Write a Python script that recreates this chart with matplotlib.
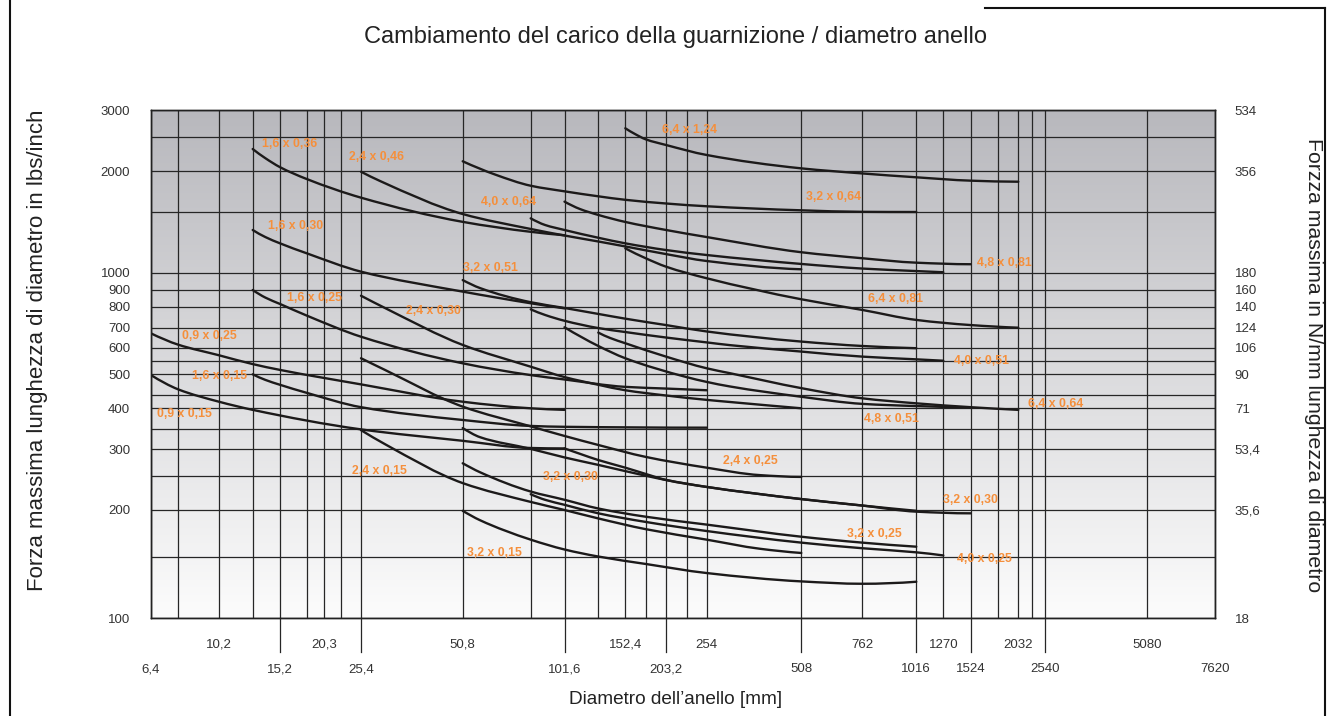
import matplotlib
matplotlib.use("Agg")
import matplotlib.pyplot as plt
import matplotlib.transforms as mtransforms
from matplotlib.lines import Line2D
from matplotlib.path import Path
from matplotlib.patches import PathPatch
from matplotlib.ticker import NullLocator
import numpy as np

plt.rcParams["font.family"] = ["Liberation Sans", "DejaVu Sans"]

# printed gridlines of the sheet: ring diameter [mm] and load [lbs/inch]
x_grid = [6.4, 7.6, 10.2, 12.7, 15.2, 17.8, 20.3, 22.9, 25.4, 50.8, 76.2, 101.6,
          127, 152.4, 177.8, 203.2, 228.6, 254, 508, 762, 1016, 1270, 1524,
          1778, 2032, 2286, 2540, 5080, 7620]
y_grid = [100, 150, 200, 250, 300, 350, 400, 450, 500, 550, 600, 700, 800,
          900, 1000, 1500, 2000, 2500, 3000]

# the printed axes are only roughly logarithmic: gridline positions (px)
x_grid_px = [151, 178.3, 219, 252.7, 280, 306.7, 323.7, 340.7, 361, 462.7, 530.7,
             564.5, 598.3, 625.3, 645.7, 666, 686.5, 706.7, 801.3, 862.3, 916.3,
             943.3, 970.7, 997.7, 1018.3, 1031.7, 1045.3, 1146.7, 1214.7]
y_grid_px = [618.3, 557.3, 510, 476.3, 449.3, 429, 408.3, 395, 374.3, 361, 347.7,
             327.7, 307, 290, 273, 212, 171.3, 137.3, 110.3]

row1 = [10.2, 20.3, 50.8, 152.4, 254, 762, 1270, 2032, 5080]
row2 = [6.4, 15.2, 25.4, 101.6, 203.2, 508, 1016, 1524, 2540, 7620]
y_ticks = [100, 200, 300, 400, 500, 600, 700, 800, 900, 1000, 2000, 3000]
y_right = ["18", "35,6", "53,4", "71", "90", "106", "124", "140", "160", "180",
           "356", "534"]

# curves: cord section x width
x_09x025 = [6.4, 7.6, 10.2, 12.7, 15.2, 25.4, 50.8, 76.2, 101.6]
y_09x025 = [670, 614, 571, 538, 516, 475, 424, 400, 396]
x_09x015 = [6.4, 7.6, 10.2, 12.7, 25.4, 50.8, 76.2, 101.6]
y_09x015 = [498, 463, 424, 396, 349, 320, 303, 302]
x_16x036 = [12.7, 13.8, 15.2, 17.8, 25.4, 50.8, 76.2, 101.6]
y_16x036 = [2315, 2180, 2055, 1894, 1660, 1405, 1315, 1285]
x_16x030 = [12.7, 13.8, 15.2, 17.8, 25.4, 50.8, 76.2, 101.6]
y_16x030 = [1331, 1270, 1218, 1140, 1009, 890, 821, 793]
x_16x025 = [12.7, 13.8, 15.2, 17.8, 25.4, 50.8, 76.2, 101.6, 152.4, 203.2, 254]
y_16x025 = [900, 854, 817, 757, 653, 541, 498, 487, 469, 465, 461]
x_16x015 = [12.7, 13.8, 15.2, 17.8, 25.4, 50.8, 76.2, 101.6, 254]
y_16x015 = [500, 486, 474, 455, 404, 371, 357, 355, 353]
x_24x046 = [25.4, 28.9, 50.8, 76.2, 101.6, 127, 152.4, 203.2, 254, 508]
y_24x046 = [1994, 1868, 1480, 1340, 1283, 1233, 1193, 1134, 1083, 1025]
x_24x030 = [25.4, 29.9, 50.8, 76.2, 101.6, 127, 152.4, 203.2, 254, 301, 508]
y_24x030 = [865, 795, 613, 528, 493, 474, 461, 448, 431, 423, 400]
x_24x025 = [25.4, 29.9, 50.8, 76.2, 101.6, 127, 177.8, 254, 375, 508]
y_24x025 = [560, 516, 406, 356, 332, 310, 285, 265, 252, 249]
x_24x015 = [25.4, 29.9, 50.8, 76.2, 101.6, 127, 177.8, 254, 375, 508]
y_24x015 = [347, 312, 239, 211, 200, 190, 178, 167, 158, 154]
x_32x064 = [50.8, 61.6, 76.2, 101.6, 127, 152.4, 203.2, 254, 508, 762, 1016]
y_32x064 = [2136, 1955, 1806, 1736, 1676, 1635, 1593, 1562, 1518, 1502, 1500]
x_32x051 = [50.8, 56.3, 76.2, 101.6, 127, 152.4, 203.2, 254, 508, 762, 1016]
y_32x051 = [957, 911, 827, 795, 765, 742, 712, 680, 629, 608, 598]
x_32x030a = [50.8, 56.3, 76.2, 101.6, 127, 177.8, 203.2, 254, 508, 762, 1016]
y_32x030a = [352, 329, 301, 284, 270, 251, 244, 233, 215, 206, 199]
x_32x030b = [101.6, 112.5, 127, 152.4, 177.8, 203.2, 254, 508, 762, 1016, 1524]
y_32x030b = [302, 291, 279, 265, 254, 244, 233, 215, 206, 198, 196]
x_32x025 = [50.8, 56.3, 76.2, 101.6, 127, 177.8, 254, 508, 762, 1016]
y_32x025 = [273, 257, 226, 214, 202, 192, 183, 170, 164, 160]
x_32x015 = [50.8, 56.3, 76.2, 101.6, 127, 177.8, 254, 508, 762, 1016]
y_32x015 = [199, 188, 167, 157.3, 150.7, 143.5, 135.1, 127.8, 125.8, 127.5]
x_40x064 = [76.2, 86.1, 101.6, 127, 152.4, 203.2, 254, 508, 762, 1016, 1270]
y_40x064 = [1438, 1376, 1331, 1264, 1218, 1165, 1127, 1062, 1030, 1013, 1005]
x_40x051 = [76.2, 86.1, 101.6, 127, 152.4, 203.2, 254, 301, 508, 762, 1016, 1270]
y_40x051 = [788, 760, 732, 698, 677, 649, 625, 612, 585, 566, 556, 551]
x_40x025 = [76.2, 86.1, 101.6, 127, 177.8, 254, 508, 762, 1016, 1270]
y_40x025 = [222, 214, 207, 196, 186, 176, 164, 158.5, 154.6, 151.7]
x_48x081 = [101.6, 112.5, 127, 152.4, 203.2, 254, 508, 762, 1016, 1524]
y_48x081 = [1614, 1532, 1471, 1404, 1331, 1270, 1148, 1103, 1071, 1060]
x_48x051 = [101.6, 127, 152.4, 228.6, 254, 301, 508, 762, 1016, 1524]
y_48x051 = [702, 608, 560, 493, 481, 470, 443, 416, 408, 403]
x_64x124 = [152.4, 164, 177.8, 203.2, 254, 508, 762, 1016, 1524, 2032]
y_64x124 = [2657, 2556, 2467, 2377, 2226, 2039, 1970, 1917, 1872, 1858]
x_64x081 = [152.4, 177.8, 203.2, 254, 508, 762, 1016, 1524, 2032]
y_64x081 = [1178, 1103, 1043, 968, 844, 785, 736, 712, 700]
x_64x064 = [127, 137.4, 152.4, 203.2, 254, 301, 508, 762, 1016, 1524, 2032]
y_64x064 = [674, 647, 621, 566, 522, 504, 466, 437, 418, 404, 396]

curves = [(x_09x025, y_09x025), (x_09x015, y_09x015), (x_16x036, y_16x036),
          (x_16x030, y_16x030), (x_16x025, y_16x025), (x_16x015, y_16x015),
          (x_24x046, y_24x046), (x_24x030, y_24x030), (x_24x025, y_24x025),
          (x_24x015, y_24x015), (x_32x064, y_32x064), (x_32x051, y_32x051),
          (x_32x030a, y_32x030a), (x_32x030b, y_32x030b), (x_32x025, y_32x025),
          (x_32x015, y_32x015), (x_40x064, y_40x064), (x_40x051, y_40x051),
          (x_40x025, y_40x025), (x_48x081, y_48x081), (x_48x051, y_48x051),
          (x_64x124, y_64x124), (x_64x081, y_64x081), (x_64x064, y_64x064)]

lab_txt = ["1,6 x 0,36", "2,4 x 0,46", "4,0 x 0,64", "1,6 x 0,30", "3,2 x 0,51",
           "1,6 x 0,25", "2,4 x 0,30", "0,9 x 0,25", "1,6 x 0,15", "0,9 x 0,15",
           "2,4 x 0,15", "3,2 x 0,15", "3,2 x 0,30", "6,4 x 1,24", "3,2 x 0,64",
           "4,8 x 0,81", "6,4 x 0,81", "4,0 x 0,51", "4,8 x 0,51", "6,4 x 0,64",
           "2,4 x 0,25", "3,2 x 0,30", "3,2 x 0,25", "4,0 x 0,25"]
lab_x = [13.5, 23.9, 56.6, 14.0, 51, 15.8, 34.4, 7.82, 8.37, 6.66, 24.2, 52,
         84.8, 197.5, 524, 1577, 787, 1366, 769, 2213, 285.5, 1270, 687, 1388]
lab_y = [2388, 2201, 1610, 1367, 1031, 850, 780, 658, 496, 385, 259, 154,
         249, 2626, 1664, 1067, 846, 551, 373, 414, 278, 213, 172.5, 148]

# piecewise-log scales that follow the printed gridlines
xl = np.log10(x_grid)
xp = np.array(x_grid_px)
xl = np.r_[xl[0] - 1, xl, xl[-1] + 1]
xp = np.r_[xp[0] - 347, xp, xp[-1] + 347]
yl = np.log10(y_grid)
yp = 618.3 - np.array(y_grid_px)
yl = np.r_[yl[0] - 1, yl, yl[-1] + 1]
yp = np.r_[yp[0] - 345, yp, yp[-1] + 345]


def fwd_x(v):
    v = np.clip(np.asarray(v, float), 1e-6, None)
    return np.interp(np.log10(v), xl, xp)


def inv_x(p):
    return 10 ** np.interp(np.asarray(p, float), xp, xl)


def fwd_y(v):
    v = np.clip(np.asarray(v, float), 1e-6, None)
    return np.interp(np.log10(v), yl, yp)


def inv_y(p):
    return 10 ** np.interp(np.asarray(p, float), yp, yl)


def end_slope(h0, h1, d0, d1):
    m = ((2 * h0 + h1) * d0 - h0 * d1) / (h0 + h1)
    if np.sign(m) != np.sign(d0):
        return 0.0
    if np.sign(d0) != np.sign(d1) and abs(m) > 3 * abs(d0):
        return 3 * d0
    return m


def curve_path(xs, ys):
    # shape-preserving cubic through the read points, built in scale space
    px, py = fwd_x(xs), fwd_y(ys)
    h = np.diff(px)
    d = np.diff(py) / h
    n = len(px)
    m = np.zeros(n)
    for k in range(1, n - 1):
        if d[k - 1] * d[k] > 0:
            w1 = 2 * h[k] + h[k - 1]
            w2 = h[k] + 2 * h[k - 1]
            m[k] = (w1 + w2) / (w1 / d[k - 1] + w2 / d[k])
    m[0] = end_slope(h[0], h[1], d[0], d[1])
    m[-1] = end_slope(h[-1], h[-2], d[-1], d[-2])
    verts = [(px[0], py[0])]
    codes = [Path.MOVETO]
    for k in range(n - 1):
        verts += [(px[k] + h[k] / 3, py[k] + m[k] * h[k] / 3),
                  (px[k + 1] - h[k] / 3, py[k + 1] - m[k + 1] * h[k] / 3),
                  (px[k + 1], py[k + 1])]
        codes += [Path.CURVE4] * 3
    v = np.array(verts)
    return Path(np.column_stack([inv_x(v[:, 0]), inv_y(v[:, 1])]), codes)


W, H = 1331, 716
fig = plt.figure(figsize=(W / 100, H / 100), dpi=100)
rect = [151 / W, 1 - 618.3 / H, (1214.7 - 151) / W, (618.3 - 110.3) / H]

bg = fig.add_axes(rect, zorder=0)
g = np.linspace(0, 1, 256)[:, None, None]
top = np.array([184, 184, 189]) / 255
bot = np.array([252, 252, 252]) / 255
bg.imshow(top * (1 - g) + bot * g, aspect="auto", extent=[0, 1, 0, 1],
          interpolation="bilinear")
bg.axis("off")

ax = fig.add_axes(rect, zorder=1)
ax.patch.set_visible(False)
ax.set_xscale("function", functions=(fwd_x, inv_x))
ax.set_yscale("function", functions=(fwd_y, inv_y))
ax.set_xlim(6.4, 7620)
ax.set_ylim(100, 3000)

gc = "#262626"
ax.vlines(x_grid, 100, 3000, colors=gc, lw=0.9, zorder=1)
ax.hlines(y_grid, 6.4, 7620, colors=gc, lw=0.9, zorder=1)

for xs, ys in curves:
    ax.add_patch(PathPatch(curve_path(xs, ys), fill=False, edgecolor="#1c1a1a",
                           lw=1.7, capstyle="round", joinstyle="round",
                           zorder=3))

for s, lx, ly in zip(lab_txt, lab_x, lab_y):
    ax.text(lx, ly, s, color="#f58f3b", fontsize=8.8, fontweight="bold",
            ha="left", va="center", zorder=4)

# x ticks: two rows of labels, the lower row with extension lines
lab = lambda v: f"{v:g}".replace(".", ",")
ax.set_xticks(row2, labels=[lab(v) for v in row2])
ax.set_xticks(row1, labels=[lab(v) for v in row1], minor=True)
ax.tick_params(axis="x", which="major", length=0, pad=32.2, labelsize=9.5,
               labelcolor="#333333")
ax.tick_params(axis="x", which="minor", length=0, pad=14.9, labelsize=9.5,
               labelcolor="#333333")
trans = mtransforms.blended_transform_factory(ax.transData, ax.transAxes)
for v in row2[1:-1]:
    ax.plot([v, v], [0, -34 / 508], transform=trans, color=gc, lw=0.9,
            clip_on=False)

ax.set_yticks(y_ticks, labels=[str(v) for v in y_ticks])
ax.yaxis.set_minor_locator(NullLocator())
ax.tick_params(axis="y", length=0, pad=15, labelsize=9.5, labelcolor="#333333")

ax2 = ax.twinx()
ax2.set_yscale("function", functions=(fwd_y, inv_y))
ax2.set_ylim(100, 3000)
ax2.set_yticks(y_ticks, labels=y_right)
ax2.yaxis.set_minor_locator(NullLocator())
ax2.tick_params(axis="y", length=0, pad=14.5, labelsize=9.5, labelcolor="#333333")

for a in [ax, ax2]:
    for sp in a.spines.values():
        sp.set_color("#222222")
        sp.set_linewidth(1.0)

fig.text(676 / W, 1 - 37 / H,
         "Cambiamento del carico della guarnizione / diametro anello",
         ha="center", va="center", fontsize=17, color="#222222")
fig.text(38 / W, 1 - 350 / H, "Forza massima lunghezza di diametro in lbs/inch",
         rotation=90, ha="center", va="center", fontsize=16, color="#222222")
fig.text(1313 / W, 1 - 365 / H, "Forzza massima in N/mm lunghezza di diametro",
         rotation=270, ha="center", va="center", fontsize=15.3, color="#222222")
fig.text(676 / W, 1 - 700 / H, "Diametro dell\u2019anello [mm]",
         ha="center", va="center", fontsize=13.7, color="#222222")

# page frame
fig.add_artist(Line2D([10 / W, 10 / W], [0, 1], transform=fig.transFigure,
                      color="#111111", lw=1.5))
fig.add_artist(Line2D([1325 / W, 1325 / W], [0, 1 - 8 / H],
                      transform=fig.transFigure, color="#111111", lw=1.5))
fig.add_artist(Line2D([985 / W, 1325 / W], [1 - 8 / H, 1 - 8 / H],
                      transform=fig.transFigure, color="#111111", lw=1.5))

plt.savefig("out.png", dpi=100)
